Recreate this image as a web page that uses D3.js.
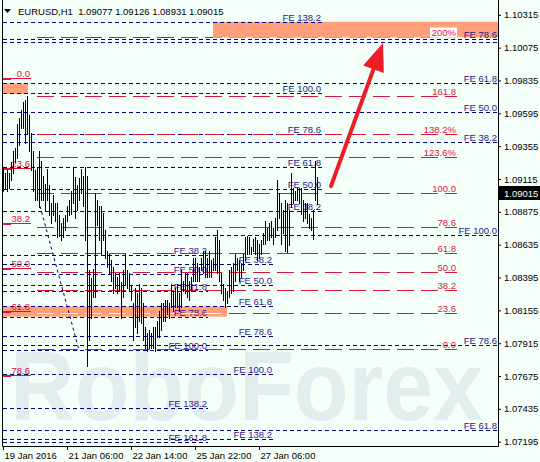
<!DOCTYPE html>
<meta charset="utf-8">
<head>
<title>EURUSD H1</title>
<style>
body { margin: 0; background: #f5fffa; }
svg { display: block; }
</style>
</head>
<body>
<div id="chart"></div>
<script src="https://d3js.org/d3.v7.min.js"></script>
<script>
var FONT = "Arial, 'Liberation Sans', sans-serif";

// hourly bars, one every two pixels (index 0 = first visible bar)
var highs = [
  1.0920, 1.0916, 1.0918, 1.0916, 1.0924, 1.0932, 1.0934, 1.0952, 1.0956, 1.0962,
  1.0968, 1.0969, 1.0972, 1.0958, 1.0945, 1.0932, 1.0918, 1.0920, 1.0932, 1.0925,
  1.0914, 1.0908, 1.0919, 1.0907, 1.0894, 1.0900, 1.0894, 1.0894, 1.0885, 1.0879,
  1.0883, 1.0885, 1.0892, 1.0896, 1.0903, 1.0920, 1.0913, 1.0907, 1.0912, 1.0919,
  1.0914, 1.0920, 1.0914, 1.0845, 1.0839, 1.0846, 1.0901, 1.0896, 1.0892, 1.0892,
  1.0887, 1.0874, 1.0859, 1.0857, 1.0852, 1.0847, 1.0843, 1.0840, 1.0843, 1.0836,
  1.0845, 1.0857, 1.0845, 1.0843, 1.0834, 1.0821, 1.0832, 1.0828, 1.0835, 1.0832,
  1.0821, 1.0803, 1.0799, 1.0801, 1.0799, 1.0803, 1.0803, 1.0808, 1.0815, 1.0821,
  1.0821, 1.0823, 1.0823, 1.0821, 1.0835, 1.0830, 1.0832, 1.0835, 1.0828, 1.0845,
  1.0837, 1.0843, 1.0843, 1.0837, 1.0840, 1.0854, 1.0854, 1.0850, 1.0847, 1.0854,
  1.0859, 1.0859, 1.0854, 1.0859, 1.0852, 1.0854, 1.0869, 1.0874, 1.0867, 1.0843,
  1.0835, 1.0832, 1.0830, 1.0845, 1.0847, 1.0850, 1.0857, 1.0854, 1.0852, 1.0850,
  1.0857, 1.0869, 1.0870, 1.0869, 1.0862, 1.0868, 1.0869, 1.0867, 1.0864, 1.0867,
  1.0872, 1.0881, 1.0876, 1.0879, 1.0881, 1.0876, 1.0883, 1.0911, 1.0901, 1.0894,
  1.0889, 1.0896, 1.0894, 1.0889, 1.0916, 1.0905, 1.0903, 1.0905, 1.0905, 1.0905,
  1.0896, 1.0894, 1.0894, 1.0886, 1.0883, 1.0889, 1.0925, 1.09126
];
var lows = [
  1.0903, 1.0905, 1.0903, 1.0905, 1.0911, 1.0916, 1.0924, 1.0927, 1.0936, 1.0949,
  1.0949, 1.0938, 1.0945, 1.0932, 1.0918, 1.0903, 1.0896, 1.0896, 1.0891, 1.0896,
  1.0896, 1.0889, 1.0896, 1.0885, 1.0879, 1.0885, 1.0881, 1.0869, 1.0870, 1.0867,
  1.0869, 1.0874, 1.0881, 1.0885, 1.0886, 1.0894, 1.0883, 1.0889, 1.0896, 1.0901,
  1.0892, 1.0867, 1.0775, 1.0794, 1.0810, 1.0825, 1.0825, 1.0878, 1.0867, 1.0857,
  1.0867, 1.0854, 1.0847, 1.0843, 1.0837, 1.0828, 1.0832, 1.0828, 1.0830, 1.0810,
  1.0825, 1.0835, 1.0832, 1.0830, 1.0823, 1.0794, 1.0803, 1.0799, 1.0808, 1.0806,
  1.0794, 1.0788, 1.0786, 1.0788, 1.0788, 1.0788, 1.0786, 1.0796, 1.0796, 1.0801,
  1.0808, 1.0808, 1.0813, 1.0810, 1.0818, 1.0815, 1.0818, 1.0818, 1.0815, 1.0818,
  1.0830, 1.0828, 1.0825, 1.0823, 1.0830, 1.0837, 1.0837, 1.0837, 1.0837, 1.0845,
  1.0843, 1.0840, 1.0840, 1.0840, 1.0840, 1.0845, 1.0845, 1.0843, 1.0837, 1.0828,
  1.0823, 1.0818, 1.0821, 1.0825, 1.0828, 1.0830, 1.0837, 1.0845, 1.0837, 1.0840,
  1.0845, 1.0852, 1.0857, 1.0857, 1.0857, 1.0859, 1.0857, 1.0852, 1.0854, 1.0857,
  1.0864, 1.0864, 1.0867, 1.0867, 1.0869, 1.0864, 1.0869, 1.0874, 1.0883, 1.0864,
  1.0872, 1.0859, 1.0858, 1.0863, 1.0891, 1.0894, 1.0896, 1.0896, 1.0894, 1.0886,
  1.0881, 1.0883, 1.0879, 1.0876, 1.0874, 1.0868, 1.0896, 1.08931
];

var timeTicks = [0, 32, 64, 96, 128];
var timeLabels = ["19 Jan 2016", "21 Jan 06:00", "22 Jan 14:00", "25 Jan 22:00", "27 Jan 06:00"];
var priceTicks = [1.10315, 1.10075, 1.09835, 1.09595, 1.09355, 1.09115, 1.08875,
                  1.08635, 1.08395, 1.08155, 1.07915, 1.07675, 1.07435, 1.07195];
var header = ["EURUSD,H1", "1.09077", "1.09126", "1.08931", "1.09015"];
var lastPrice = 1.09015;

// red fibo expansion (dashed, right labels)
var fibLevels = [1.10153, 1.09721, 1.09447, 1.09278, 1.09010, 1.08761, 1.08571, 1.08437, 1.08303, 1.08133, 1.07870];
var fibLabels = ["200%", "161.8", "138.2%", "123.6%", "100.0", "78.6", "61.8", "50.0", "38.2", "23.6", "0.0"];
// red retracement on the left
var retrLevels = [1.09855, 1.09195, 1.08797, 1.08466, 1.08150, 1.07682];
var retrLabels = ["0.0", "23.6", "38.2", "50.0", "61.8", "78.6"];

// navy FE tools
var feA_levels = [1.10264, 1.09747, 1.09443, 1.09204, 1.09044, 1.08883];
var feA_labels = ["FE 138.2", "FE 100.0", "FE 78.6", "FE 61.8", "FE 50.0", "FE 38.2"];
var feB_levels = [1.10136, 1.10118, 1.09814, 1.09604, 1.09385, 1.08705, 1.07905, 1.07280];
var feB_labels = ["FE 78.6", "", "FE 61.8", "FE 50.0", "FE 38.2", "FE 100.0", "FE 78.6", "FE 61.8"];
var feC_levels = [1.08559, 1.08424, 1.08296, 1.08106, 1.07865, 1.07438, 1.07190];
var feC_labels = ["FE 38.2", "FE 50.0", "FE 61.8", "FE 78.6", "FE 100.0", "FE 138.2", "FE 161.8"];
var feD_levels = [1.08497, 1.08343, 1.08186, 1.07967, 1.07689, 1.07212];
var feD_labels = ["FE 38.2", "FE 50.0", "FE 61.8", "FE 78.6", "FE 100.0", "FE 138.2"];

// salmon zones: [from bar, to bar, top price, bottom price]
var zones = [[105, 247.5, 1.10264, 1.10150], [0, 12.5, 1.09814, 1.09736], [0, 112, 1.08183, 1.08109]];
// dotted trend line of the FE tool and the forecast arrow: [bar, price]
var trendLine = [[18.5, 1.08917], [38, 1.07865]];
var arrowPts = [[164, 1.09063], [190, 1.10109]];

var width = 540, height = 462;
var x = d3.scaleLinear().domain([0, 247.5]).range([3, 498]);
var y = d3.scaleLinear().domain([1.07195, 1.10315]).range([441.7, 14.8]);
function c(v) { return Math.round(v) + 0.5; }

var svg = d3.select("#chart").append("svg")
  .attr("width", width)
  .attr("height", height)
  .attr("font-family", FONT)
  .attr("font-size", 9.5);

svg.append("rect").attr("width", width).attr("height", height).attr("fill", "#f5fffa");

svg.append("text")
  .attr("x", 10).attr("y", 420)
  .attr("textLength", 473).attr("lengthAdjust", "spacingAndGlyphs")
  .attr("font-size", 98).attr("font-weight", "bold")
  .attr("fill", "#e3eded")
  .text("RoboForex");

// zones
svg.append("g").selectAll("rect").data(zones).enter().append("rect")
  .attr("x", function(d) { return x(d[0]); })
  .attr("y", function(d) { return y(d[2]); })
  .attr("width", function(d) { return x(d[1]) - x(d[0]); })
  .attr("height", function(d) { return y(d[3]) - y(d[2]); })
  .attr("fill", "#ffa07a");

var clip = svg.append("clipPath").attr("id", "zoneClip");
zones.forEach(function(d) {
  clip.append("rect").attr("x", x(d[0])).attr("y", y(d[2]))
    .attr("width", x(d[1]) - x(d[0])).attr("height", y(d[3]) - y(d[2]));
});

// FE tools
function feTool(levels, labels, end, color) {
  var g = svg.append("g");
  g.selectAll("line").data(levels).enter().append("line")
    .attr("x1", x(0)).attr("x2", x(end))
    .attr("y1", function(d) { return c(y(d)); })
    .attr("y2", function(d) { return c(y(d)); })
    .attr("stroke", "#00007a").attr("stroke-dasharray", "4,3");
  g.selectAll("text").data(levels).enter().append("text")
    .attr("x", x(end) - 1)
    .attr("y", function(d) { return c(y(d)) - 2; })
    .attr("text-anchor", "end")
    .attr("fill", color)
    .text(function(d, i) { return labels[i]; });
}
feTool(feA_levels, feA_labels, 159.5, "#1b1b86");
feTool(feB_levels, feB_labels, 247.5, "#1b1b86");
feTool(feC_levels, feC_labels, 102.5, "#3a1890");
feTool(feD_levels, feD_labels, 135, "#3a1890");

svg.append("line")
  .attr("x1", x(trendLine[0][0])).attr("y1", y(trendLine[0][1]))
  .attr("x2", x(trendLine[1][0])).attr("y2", y(trendLine[1][1]))
  .attr("stroke", "#00007a").attr("stroke-dasharray", "3,3");

// red expansion
var fib = svg.append("g");
fib.selectAll("line.red").data(fibLevels).enter().append("line").attr("class", "red")
  .attr("x1", x(17)).attr("x2", x(227))
  .attr("y1", function(d) { return c(y(d)); })
  .attr("y2", function(d) { return c(y(d)); })
  .attr("stroke", "#dc143c").attr("stroke-dasharray", "17,7");
fib.selectAll("line.white").data(fibLevels).enter().append("line").attr("class", "white")
  .attr("clip-path", "url(#zoneClip)")
  .attr("x1", x(17)).attr("x2", x(227))
  .attr("y1", function(d) { return c(y(d)); })
  .attr("y2", function(d) { return c(y(d)); })
  .attr("stroke", "#ffffff").attr("stroke-dasharray", "17,7");
fib.selectAll("rect").data(fibLevels.slice(0, 1)).enter().append("rect")
  .attr("x", x(227) - 27).attr("y", function(d) { return c(y(d)) - 10; })
  .attr("width", 27).attr("height", 10).attr("fill", "#fff");
fib.selectAll("text").data(fibLevels).enter().append("text")
  .attr("x", x(227) - 1)
  .attr("y", function(d) { return c(y(d)) - 2; })
  .attr("text-anchor", "end")
  .attr("fill", "#dc143c")
  .text(function(d, i) { return fibLabels[i]; });

// red retracement
var retr = svg.append("g");
retr.selectAll("line.thin").data(retrLevels).enter().append("line").attr("class", "thin")
  .attr("x1", x(0)).attr("x2", x(14))
  .attr("y1", function(d) { return c(y(d)); })
  .attr("y2", function(d) { return c(y(d)); })
  .attr("stroke", "#dc143c");
retr.selectAll("line.thick").data(retrLevels).enter().append("line").attr("class", "thick")
  .attr("x1", x(0)).attr("x2", x(4))
  .attr("y1", function(d) { return c(y(d)) + 0.5; })
  .attr("y2", function(d) { return c(y(d)) + 0.5; })
  .attr("stroke", "#dc143c").attr("stroke-width", 2);
retr.selectAll("text").data(retrLevels).enter().append("text")
  .attr("x", x(14) - 1)
  .attr("y", function(d) { return c(y(d)) - 2; })
  .attr("text-anchor", "end")
  .attr("fill", "#dc143c")
  .text(function(d, i) { return retrLabels[i]; });

// bars
svg.append("g").selectAll("line").data(highs).enter().append("line")
  .attr("x1", function(d, i) { return c(x(i)); })
  .attr("x2", function(d, i) { return c(x(i)); })
  .attr("y1", function(d) { return Math.round(y(d)); })
  .attr("y2", function(d, i) { return Math.round(y(lows[i])) + 1; })
  .attr("stroke", "#000");

// arrow
var ax0 = x(arrowPts[0][0]), ay0 = y(arrowPts[0][1]);
var ax1 = x(arrowPts[1][0]), ay1 = y(arrowPts[1][1]);
var len = Math.hypot(ax1 - ax0, ay1 - ay0), ux = (ax1 - ax0) / len, uy = (ay1 - ay0) / len;
var hl = 28, hw = 11;
var bx = ax1 - ux * hl, by = ay1 - uy * hl;
svg.append("line")
  .attr("x1", ax0).attr("y1", ay0).attr("x2", bx + ux * 2).attr("y2", by + uy * 2)
  .attr("stroke", "#ee1c25").attr("stroke-width", 4).attr("stroke-linecap", "round");
svg.append("polygon")
  .attr("points", [[ax1, ay1], [bx - uy * hw, by + ux * hw], [bx + uy * hw, by - ux * hw]].join(" "))
  .attr("fill", "#ee1c25");

// frame
svg.append("path")
  .attr("d", "M2.5,0V446.5H498.5V0")
  .attr("fill", "none").attr("stroke", "#000");

// axes
var gy = svg.append("g").attr("transform", "translate(498,0)")
  .call(d3.axisRight(y).tickValues(priceTicks).tickFormat(d3.format(".5f")).tickSize(3).tickPadding(3));
gy.select(".domain").remove();
gy.attr("font-family", FONT).attr("font-size", 9.5);

var gx = svg.append("g").attr("transform", "translate(0,446)")
  .call(d3.axisBottom(x).tickValues(timeTicks)
    .tickFormat(function(d, i) { return timeLabels[i]; }).tickSize(4).tickPadding(2));
gx.select(".domain").remove();
gx.attr("font-family", FONT).attr("font-size", 9.5);
gx.selectAll("text").attr("text-anchor", "start").attr("x", 1);

// last price tag
var ly = y(lastPrice);
svg.append("rect").attr("x", 499).attr("y", Math.round(ly) - 7).attr("width", 41).attr("height", 14).attr("fill", "#000");
svg.append("text").attr("x", 504).attr("y", Math.round(ly) + 3.5).attr("fill", "#fff").text(d3.format(".5f")(lastPrice));

// header
svg.append("polygon").attr("points", "4,9 11,9 7.5,13").attr("fill", "#000");
svg.append("text").attr("x", 18).attr("y", 14.5).attr("fill", "#000")
  .style("white-space", "pre")
  .text(header[0] + "  " + header.slice(1).join(" "));
</script>
</body>
